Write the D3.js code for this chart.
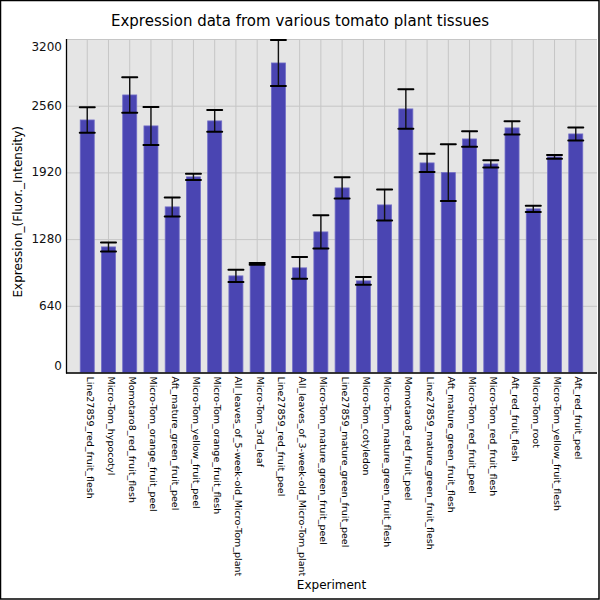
<!DOCTYPE html>
<html>
<head>
<meta charset="utf-8">
<script src="https://cdnjs.cloudflare.com/ajax/libs/d3/7.8.5/d3.min.js"></script>
<style>
  body { margin: 0; background: #fff; }
  text { font-family: "DejaVu Sans", sans-serif; }
</style>
</head>
<body>
<div id="chart"></div>
<script>
// tissue names, in plotting order
var tissues = [
  "Line27859_red_fruit_flesh", "Micro-Tom_hypocotyl", "Momotaro8_red_fruit_flesh",
  "Micro-Tom_orange_fruit_peel", "Aft_mature_green_fruit_peel", "Micro-Tom_yellow_fruit_peel",
  "Micro-Tom_orange_fruit_flesh", "All_leaves_of_5-week-old_Micro-Tom_plant", "Micro-Tom_3rd_leaf",
  "Line27859_red_fruit_peel", "All_leaves_of_3-week-old_Micro-Tom_plant", "Micro-Tom_mature_green_fruit_peel",
  "Line27859_mature_green_fruit_peel", "Micro-Tom_cotyledon", "Micro-Tom_mature_green_fruit_flesh",
  "Momotaro8_red_fruit_peel", "Line27859_mature_green_fruit_flesh", "Aft_mature_green_fruit_flesh",
  "Micro-Tom_red_fruit_peel", "Micro-Tom_red_fruit_flesh", "Aft_red_fruit_flesh",
  "Micro-Tom_root", "Micro-Tom_yellow_fruit_flesh", "Aft_red_fruit_peel"
];
// mean expression
var expression = [
  2423, 1205, 2663, 2366, 1589, 1877, 2414, 927, 1042, 2970, 1004, 1349,
  1771, 879, 1608, 2529, 2011, 1918, 2241, 2001, 2347, 1570, 2069, 2289
];
// error (+/-)
var errors = [
  122, 43, 170, 182, 91, 31, 104, 59, 8, 220, 105, 160,
  102, 38, 149, 190, 87, 273, 74, 35, 64, 30, 18, 62
];
var yTicks = [0, 640, 1280, 1920, 2560, 3200];

function main() {
  var W = 600, H = 600;
  var left = 66, right = 597, top = 39, bottom = 372.5;

  var svg = d3.select("#chart").append("svg")
    .attr("width", W).attr("height", H);

  svg.append("rect")
    .attr("x", 0.5).attr("y", 0.5).attr("width", W - 1.5).attr("height", H - 1.5)
    .attr("fill", "#fff").attr("stroke", "#000").attr("stroke-width", 1.5);

  // x: one slot of padding each side
  var x = d3.scaleLinear().domain([0, tissues.length + 1]).range([left, right]);
  var step = x(1) - x(0);
  var barW = step * 0.66;
  var y = d3.scaleLinear().domain([0, 3200]).range([bottom, top]);

  var data = tissues.map(function(t, i) {
    return {name: t, value: expression[i], err: errors[i], pos: i + 1};
  });

  // plot background
  svg.append("rect")
    .attr("x", left).attr("y", top)
    .attr("width", right - left).attr("height", bottom - top)
    .attr("fill", "#e5e5e5");

  svg.append("clipPath").attr("id", "plotclip")
    .append("rect")
    .attr("x", left).attr("y", top - 1)
    .attr("width", right - left).attr("height", bottom - top + 1);

  var grid = svg.append("g");
  grid.selectAll(".hgrid")
    .data(yTicks)
    .enter().append("line")
    .attr("x1", left).attr("x2", right)
    .attr("y1", function(d) { return y(d) + 0.5; })
    .attr("y2", function(d) { return y(d) + 0.5; })
    .attr("stroke", "#c6c6c6").attr("stroke-width", 1);
  grid.selectAll(".vgrid")
    .data(data)
    .enter().append("line")
    .attr("x1", function(d) { return x(d.pos); })
    .attr("x2", function(d) { return x(d.pos); })
    .attr("y1", top).attr("y2", bottom)
    .attr("stroke", "#c6c6c6").attr("stroke-width", 1);

  var plot = svg.append("g").attr("clip-path", "url(#plotclip)");

  // bars
  plot.selectAll(".bar")
    .data(data)
    .enter().append("rect")
    .attr("x", function(d) { return x(d.pos) - barW / 2; })
    .attr("y", function(d) { return y(d.value); })
    .attr("width", barW)
    .attr("height", function(d) { return y(0) - y(d.value); })
    .attr("fill", "#4a45b2")
    .attr("stroke", "#716dc6")
    .attr("stroke-width", 0.8);

  // error bars
  var eb = plot.selectAll(".err")
    .data(data)
    .enter().append("g");
  eb.append("line")
    .attr("x1", function(d) { return x(d.pos); })
    .attr("x2", function(d) { return x(d.pos); })
    .attr("y1", function(d) { return y(d.value + d.err); })
    .attr("y2", function(d) { return y(d.value - d.err); })
    .attr("stroke", "#111").attr("stroke-width", 1.4);
  [1, -1].forEach(function(s) {
    eb.append("line")
      .attr("x1", function(d) { return x(d.pos) - barW / 2 - 0.5; })
      .attr("x2", function(d) { return x(d.pos) + barW / 2 + 0.5; })
      .attr("y1", function(d) { return y(d.value + s * d.err); })
      .attr("y2", function(d) { return y(d.value + s * d.err); })
      .attr("stroke", "#000").attr("stroke-width", 2)
      .attr("stroke-linecap", "round");
  });

  // axes
  svg.append("line")
    .attr("x1", left + 0.5).attr("x2", left + 0.5).attr("y1", top).attr("y2", bottom + 1)
    .attr("stroke", "#000").attr("stroke-width", 1.3);
  svg.append("line")
    .attr("x1", left).attr("x2", right).attr("y1", bottom + 0.5).attr("y2", bottom + 0.5)
    .attr("stroke", "#000").attr("stroke-width", 1.3);

  // y labels: end labels are pulled inside the plot area
  var yAxis = d3.axisLeft(y).tickValues(yTicks).tickFormat(d3.format("d"))
    .tickSize(0).tickPadding(4);
  var ya = svg.append("g")
    .attr("transform", "translate(" + left + ",0)")
    .call(yAxis)
    .call(function(g) { g.select(".domain").remove(); });
  ya.selectAll(".tick")
    .attr("transform", function(d) {
      return "translate(0," + Math.max(top + 8, Math.min(bottom - 6, y(d))) + ")";
    });
  ya.selectAll("text")
    .attr("font-family", "DejaVu Sans")
    .attr("font-size", "12px")
    .attr("fill", "#111");

  // x tick labels, rotated
  svg.selectAll(".xlab")
    .data(data)
    .enter().append("text")
    .attr("transform", function(d) {
      return "translate(" + (x(d.pos) - 0.5) + "," + (bottom + 4) + ") rotate(90)";
    })
    .attr("font-size", "9.5px")
    .attr("fill", "#000")
    .text(function(d) { return d.name; });

  // titles
  svg.append("text")
    .attr("x", 300).attr("y", 26)
    .attr("text-anchor", "middle")
    .attr("font-size", "15px")
    .text("Expression data from various tomato plant tissues");

  svg.append("text")
    .attr("x", (left + right) / 2).attr("y", 589)
    .attr("text-anchor", "middle")
    .attr("font-size", "12px")
    .text("Experiment");

  svg.append("text")
    .attr("transform", "translate(22," + ((top + bottom) / 2 + 6) + ") rotate(-90)")
    .attr("text-anchor", "middle")
    .attr("font-size", "12px")
    .text("Expression_(Fluor._Intensity)");
}
main();
</script>
</body>
</html>
